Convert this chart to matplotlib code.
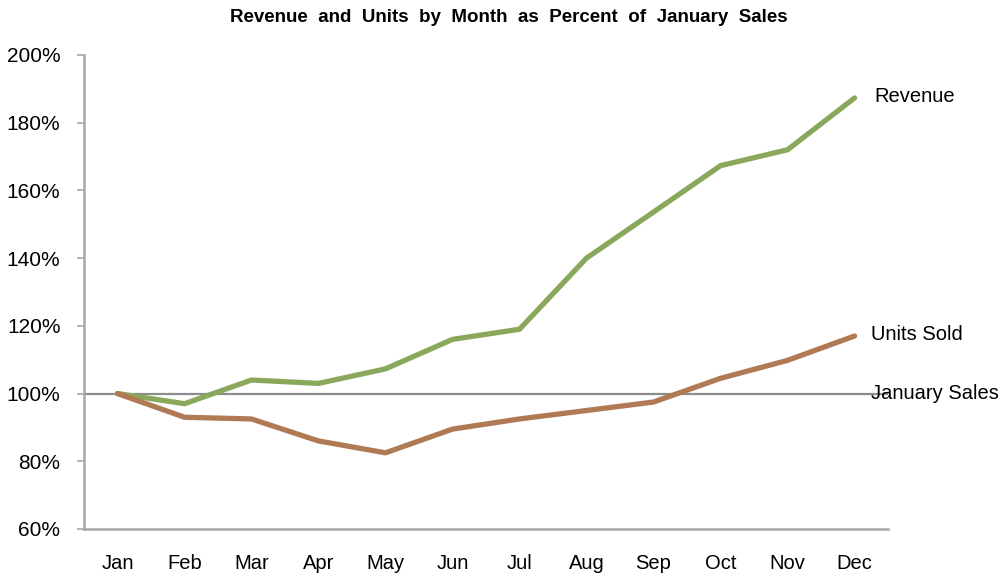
import matplotlib
matplotlib.use("Agg")
import matplotlib.pyplot as plt
from matplotlib.ticker import FuncFormatter

MONTHS = ["Jan", "Feb", "Mar", "Apr", "May", "Jun", "Jul", "Aug", "Sep", "Oct", "Nov", "Dec"]
REVENUE = [100, 97, 104, 103, 107.3, 116, 119, 140, 153.6, 167.3, 172, 187.3]
UNITS_SOLD = [100, 93, 92.5, 86, 82.5, 89.5, 92.5, 95, 97.5, 104.5, 109.8, 117]
BASELINE = 100
Y_TICKS = [60, 80, 100, 120, 140, 160, 180, 200]
TITLE = "Revenue and Units by Month as Percent of January Sales"

GREEN = "#8aa85b"
BROWN = "#b07a55"
GRAY = "#8c8c8c"
SPINE = "#a6a6a6"

plt.rcParams["font.family"] = ["Liberation Sans", "DejaVu Sans"]

fig = plt.figure(figsize=(10.05, 5.76), dpi=100)
ax = fig.add_axes([0.0836, 0.0816, 0.80, 0.823])

x = list(range(len(MONTHS)))
ax.axhline(BASELINE, color=GRAY, lw=1.6, zorder=1)
ax.plot(x, REVENUE, color=GREEN, lw=3.8, solid_capstyle="round", solid_joinstyle="round", zorder=3)
ax.plot(x, UNITS_SOLD, color=BROWN, lw=3.8, solid_capstyle="round", solid_joinstyle="round", zorder=3)

ax.set_xlim(-0.5, 11.5)
ax.set_ylim(60, 200)
ax.set_yticks(Y_TICKS)
ax.yaxis.set_major_formatter(FuncFormatter(lambda v, _: f"{v:.0f}%"))
ax.set_xticks(x)
ax.set_xticklabels(MONTHS)

for side in ["top", "right"]:
    ax.spines[side].set_visible(False)
for side in ["left", "bottom"]:
    ax.spines[side].set_color(SPINE)
    ax.spines[side].set_linewidth(1.8)

ax.tick_params(axis="y", length=5, width=1.2, color=SPINE, labelsize=15, pad=12)
ax.tick_params(axis="x", length=0, labelsize=14.5, pad=18)

# end labels
ax.text(11.3, REVENUE[-1] + 0.3, "Revenue", fontsize=14.5, va="center", ha="left", clip_on=False)
ax.text(11.25, UNITS_SOLD[-1] + 0.5, "Units Sold", fontsize=14.5, va="center", ha="left", clip_on=False)
ax.text(11.24, BASELINE, "January Sales", fontsize=14.5, va="center", ha="left", clip_on=False)

fig.text(0.506, 0.97, TITLE.replace(" ", "  "),
         fontsize=13.5, fontweight="bold", ha="center", va="center")

fig.savefig("out.png", dpi=100)
